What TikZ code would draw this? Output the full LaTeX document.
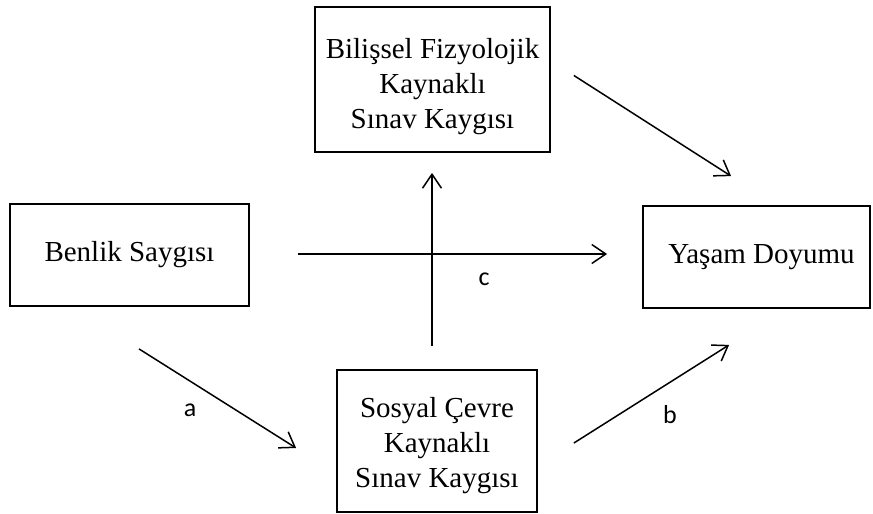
\documentclass[tikz,border=0pt]{standalone}
\usepackage{fontspec}
\setmainfont{Liberation Serif}
\newfontfamily\labelfont{Carlito}
\usetikzlibrary{arrows.meta,calc}

\tikzset{
  box/.style={draw, line width=1.8pt, inner sep=0pt, align=center,
    font=\fontsize{29}{35}\selectfont},
  arr/.style={line width=1.5pt,
    -{Straight Barb[length=14pt,width=19pt,line width=1.5pt]}},
  lbl/.style={inner sep=0pt, font=\labelfont\fontsize{26}{30}\selectfont}
}

\begin{document}
\begin{tikzpicture}[x=1pt,y=-1pt]
  \useasboundingbox (0,0) rectangle (873,514);

  % variables
  \node[box, minimum width=235pt, minimum height=145pt]
    (fiz) at (432.5,79.5) {\rule{0pt}{35pt}Bilişsel Fizyolojik\\Kaynaklı\\Sınav Kaygısı};
  \node[box, minimum width=239pt, minimum height=102pt]
    (ben) at (129.5,255) {Benlik Saygısı};
  \node[box, minimum width=227pt, minimum height=102pt]
    (yas) at (756.5,257) {\hspace*{10pt}Yaşam Doyumu};
  \node[box, minimum width=200pt, minimum height=142pt]
    (sos) at (437,441) {\rule{0pt}{30pt}Sosyal Çevre\\Kaynaklı\\Sınav Kaygısı};

  % connector end points, set off from the boxes
  \coordinate (fizOut) at ($(fiz.east)+(23,-4)$);
  \coordinate (yasInTop) at ($(yas.north west)+(89,-29)$);
  \coordinate (benOut) at ($(ben.east)+(48,-1)$);
  \coordinate (yasInMid) at ($(benOut -| yas.west)+(-35,0)$);
  \coordinate (sosUp) at ($(sos.north)+(-5,-23)$);
  \coordinate (fizIn) at ($(sosUp |- fiz.south)+(0,20)$);
  \coordinate (benDown) at ($(ben.south)+(9.5,42)$);
  \coordinate (sosIn) at ($(sos.west)+(-40,7)$);
  \coordinate (sosOut) at ($(sos.east)+(36,2)$);
  \coordinate (yasInLow) at ($(yas.south west)+(87,36)$);

  % paths
  \draw[arr] (fizOut) -- (yasInTop);
  \draw[arr] (sosUp) -- (fizIn);
  \draw[arr] (benOut) -- (yasInMid);
  \draw[arr] (benDown) -- (sosIn);
  \draw[arr] (sosOut) -- (yasInLow);

  % path labels
  \node[lbl] (la) at (190,410) {a};
  \node[lbl] (lb) at (670,415) {b};
  \node[lbl] (lc) at (484,279) {c};
\end{tikzpicture}
\end{document}
